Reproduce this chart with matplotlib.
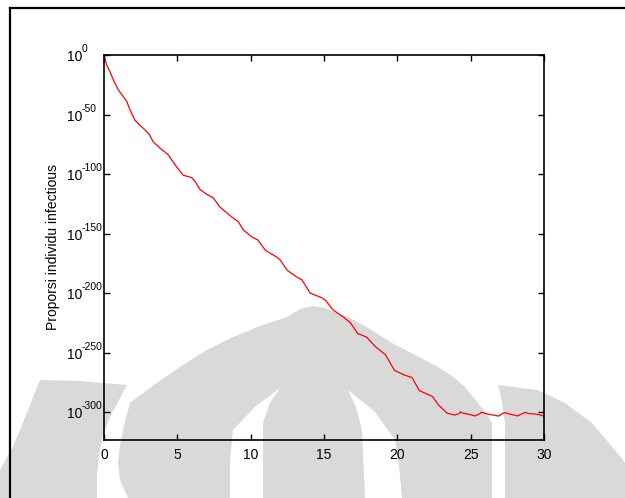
import matplotlib
matplotlib.use("Agg")
import matplotlib.pyplot as plt
from matplotlib.patches import Polygon
from matplotlib.lines import Line2D

plt.rcParams['font.family'] = ['Liberation Sans', 'DejaVu Sans']

#### DATA (exponent of the proportion) ############################
t = [0.0, 0.18, 0.41, 0.64, 0.98, 1.32, 1.55, 1.77, 2.1, 2.45, 2.8, 3.1,
     3.36, 3.8, 4.4, 4.6, 4.95, 5.4, 5.98, 6.2, 6.55, 7.0, 7.45, 7.9,
     8.7, 9.15, 9.5, 10.1, 10.5, 11.0, 11.8, 12.0, 12.5, 13.2, 13.5,
     14.05, 14.85, 15.1, 15.6, 16.3, 16.8, 17.3, 17.9, 18.5, 19.2, 19.8,
     20.5, 21.0, 21.5, 22.4, 22.8, 23.4, 23.9, 24.2, 24.3, 24.4, 24.6,
     24.9, 25.3, 25.6, 25.75, 26.1, 26.5, 26.9, 27.1, 27.3, 27.7, 28.2,
     28.5, 28.7, 29.0, 29.4, 29.7, 30.0]
log_infectious = [0, -8.4, -14, -21, -29.4, -35, -39, -46, -54.6, -59, -63,
                  -67, -73, -78, -84, -88, -94, -101, -103, -106, -113,
                  -117, -120, -127.7, -136, -140, -147, -153, -155.5, -164,
                  -170, -172, -181, -187, -189, -200, -204, -206, -214,
                  -220, -225, -234, -237, -245, -252, -265, -269, -271,
                  -282, -287, -294, -301, -302.5, -301.5, -299.8, -300.6,
                  -301.2, -302, -303.3, -301.5, -300.2, -301.5, -302.5,
                  -303.4, -301.8, -300.5, -301.8, -303.3, -301.5, -300.4,
                  -301.3, -301.7, -302.3, -303.4]

x_ticks = [0, 5, 10, 15, 20, 25, 30]
y_ticks = [0, -50, -100, -150, -200, -250, -300]
y_exponents = ['0', '-50', '-100', '-150', '-200', '-250', '-300']

##### Figure #####
W, H = 625, 498
fig = plt.figure(figsize=(W / 100, H / 100), dpi=100)


def px(points):
    return [(x / W, 1 - y / H) for x, y in points]


# background watermark (page logo), drawn behind the axes
grey = '#d9d9d9'
left_arc = [(0, 470), (13, 447), (22, 425), (30, 405), (40, 380), (80, 381),
            (127, 385), (110, 417), (103, 435), (99, 455), (97, 475), (97, 498),
            (0, 498)]
dome = [(128, 498), (120, 480), (118, 463), (120, 445), (123, 430), (130, 403),
        (155, 384), (180, 367), (205, 351), (233, 337), (260, 326), (287, 317),
        (300, 309), (313, 306), (325, 308), (348, 317), (370, 329), (392, 343),
        (415, 355), (438, 367), (452, 376), (465, 387), (478, 403), (486, 413),
        (492, 423), (492, 498), (402, 498), (399, 465), (395, 440), (375, 412),
        (348, 390), (356, 407), (362, 430), (365, 498), (263, 498), (263, 423),
        (270, 403), (280, 388), (255, 407), (233, 430), (230, 460), (230, 498)]
right_arc = [(498, 385), (538, 390), (565, 403), (592, 423), (615, 450),
             (625, 463), (625, 498), (505, 498), (505, 423), (502, 402)]
for shape in (left_arc, dome, right_arc):
    fig.add_artist(Polygon(px(shape), closed=True, transform=fig.transFigure,
                           facecolor=grey, edgecolor='none', zorder=-1))

# page frame (top and left edges)
fig.add_artist(Line2D([10 / W, 1], [1 - 8 / H, 1 - 8 / H], transform=fig.transFigure,
                      color='black', lw=1.6))
fig.add_artist(Line2D([10 / W, 10 / W], [1 - 8 / H, 0], transform=fig.transFigure,
                      color='black', lw=1.6))

ax = fig.add_axes([104 / W, 1 - 440 / H, 440 / W, 385 / H])
ax.set_facecolor('none')
ax.plot(t, log_infectious, color='red', lw=0.9)

ax.set_xlim(0, 30)
ax.set_ylim(-323.5, 0)
ax.set_xticks(x_ticks)
ax.set_yticks(y_ticks)
ax.set_yticklabels([])
ax.tick_params(direction='in', length=4, width=1, top=True, right=True,
               labelsize=10, pad=6)
for s in ax.spines.values():
    s.set_linewidth(1.2)

# gnuplot-style "10^-n" labels with a plain hyphen
for v, e in zip(y_ticks, y_exponents):
    ax.annotate('10', xy=(0, v), xycoords=('axes fraction', 'data'),
                xytext=(-22, -2), textcoords='offset pixels',
                ha='right', va='center', fontsize=10)
    ax.annotate(e, xy=(0, v), xycoords=('axes fraction', 'data'),
                xytext=(-22, 3), textcoords='offset pixels',
                ha='left', va='baseline', fontsize=7.5)

ax.set_ylabel('Proporsi individu infectious', fontsize=10)
ax.yaxis.set_label_coords(-0.10, 0.5)

fig.savefig('out.png', dpi=100)
